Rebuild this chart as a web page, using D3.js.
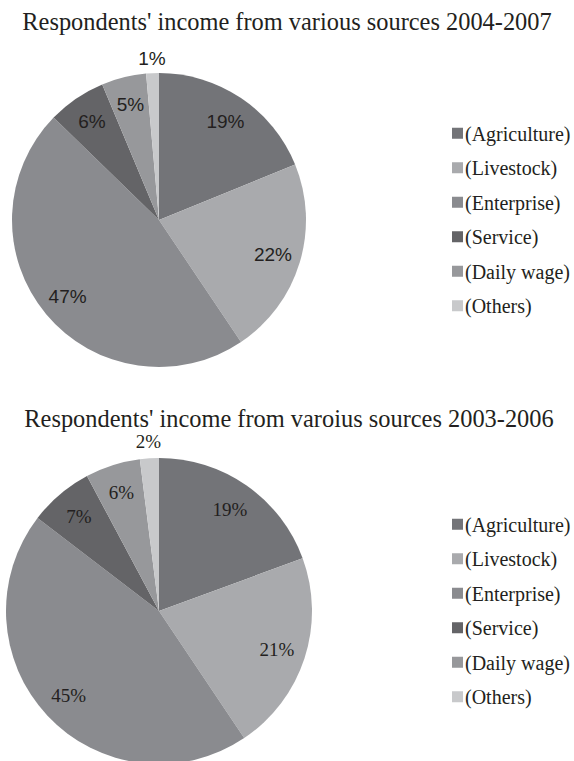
<!DOCTYPE html>
<html>
<head>
<meta charset="utf-8">
<script src="https://cdn.jsdelivr.net/npm/d3@7"></script>
<style>
  html, body { margin: 0; padding: 0; background: #fff; }
  svg { display: block; }
</style>
</head>
<body>
<svg id="chart" width="574" height="761"></svg>
<script>
const categories = ["(Agriculture)", "(Livestock)", "(Enterprise)", "(Service)", "(Daily wage)", "(Others)"];
const sliceColors = ["#737478", "#a9aaad", "#8a8b8f", "#646467", "#97989b", "#c8c9cb"];
const values2004 = [18.8, 21.7, 46.6, 6.4, 4.9, 1.4];
const values2003 = [19.4, 21.2, 44.8, 6.8, 5.8, 2.0];
const titles = [
  "Respondents' income from various sources 2004-2007",
  "Respondents' income from varoius sources 2003-2006"
];

const svg = d3.select("#chart");
const color = d3.scaleOrdinal().domain(categories).range(sliceColors);
const serif = "'Liberation Serif', 'Times New Roman', Times, serif";
const sans = "'Liberation Sans', Arial, Helvetica, sans-serif";

function drawPanel(cfg) {
  const g = svg.append("g");
  g.append("text")
    .attr("x", cfg.titleX).attr("y", cfg.titleY)
    .attr("text-anchor", "middle")
    .attr("font-family", serif)
    .attr("font-size", 24.4)
    .attr("fill", "#231f20")
    .text(cfg.title);

  const data = categories.map((c, i) => ({ cat: c, value: cfg.values[i] }));
  const pie = d3.pie().sort(null).value(d => d.value);
  const arcs = pie(data);
  const arc = d3.arc().innerRadius(0).outerRadius(cfg.r);
  const inner = d3.arc().innerRadius(cfg.r * 0.81).outerRadius(cfg.r * 0.81);
  const outer = d3.arc().innerRadius(cfg.r + cfg.outOff).outerRadius(cfg.r + cfg.outOff);

  const pg = g.append("g").attr("transform", `translate(${cfg.cx},${cfg.cy})`);
  pg.selectAll("path").data(arcs).join("path")
    .attr("d", arc)
    .attr("fill", d => color(d.data.cat));

  pg.selectAll("text").data(arcs).join("text")
    .attr("transform", (d, i) => `translate(${(i === arcs.length - 1 ? outer : inner).centroid(d)})`)
    .attr("text-anchor", "middle")
    .attr("dominant-baseline", "central")
    .attr("font-family", cfg.labelFont)
    .attr("font-size", cfg.labelSize)
    .attr("fill", "#231f20")
    .text(d => Math.round(d.data.value) + "%");

  const step = 34.5;
  const lg = g.append("g");
  const items = lg.selectAll("g").data(categories).join("g")
    .attr("transform", (d, i) => `translate(452,${cfg.cy - step * 2.5 + i * step})`);
  items.append("rect")
    .attr("x", 0).attr("y", -6).attr("width", 11).attr("height", 11)
    .attr("fill", d => color(d));
  items.append("text")
    .attr("x", 13).attr("y", 0)
    .attr("dominant-baseline", "central")
    .attr("font-family", serif)
    .attr("font-size", 20)
    .attr("fill", "#231f20")
    .text(d => d);
}

drawPanel({
  title: titles[0], titleX: 287, titleY: 30,
  values: values2004, cx: 159, cy: 220, r: 147, outOff: 15,
  labelFont: sans, labelSize: 19
});
drawPanel({
  title: titles[1], titleX: 289, titleY: 427,
  values: values2003, cx: 159, cy: 611, r: 153, outOff: 17,
  labelFont: serif, labelSize: 19
});
</script>
</body>
</html>
